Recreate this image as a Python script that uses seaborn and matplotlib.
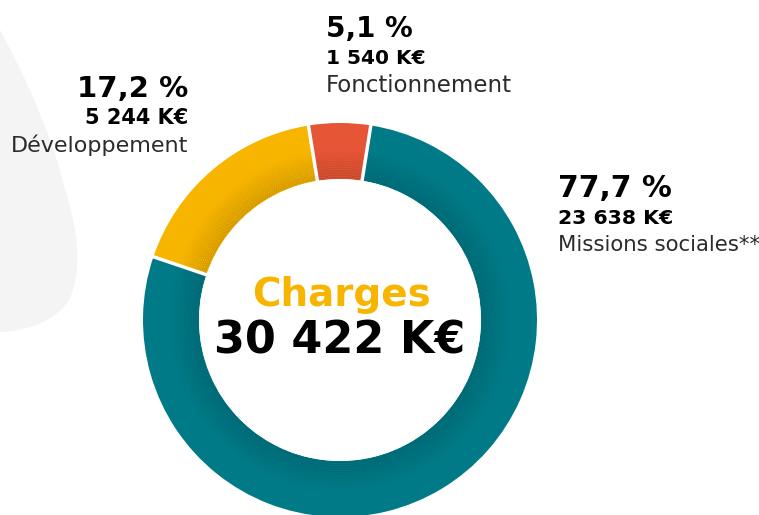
import matplotlib
matplotlib.use("Agg")
import matplotlib.pyplot as plt
import seaborn as sns
import numpy as np
from matplotlib.path import Path
from matplotlib.patches import PathPatch, Circle

# ---- data ----
categories = ["Fonctionnement", "Développement", "Missions sociales**"]
values_keur = [1540, 5244, 23638]
percent_labels = ["5,1 %", "17,2 %", "77,7 %"]
amount_labels = ["1 540 K€", "5 244 K€", "23 638 K€"]
total_label = "30 422 K€"
center_title = "Charges"
colors = ["#E65535", "#F7B500", "#007A87"]

sns.set_theme(style="white")
plt.rcParams['font.family'] = ['DejaVu Sans']

W, H = 759, 515
fig = plt.figure(figsize=(W / 100, H / 100), dpi=100)
ax = fig.add_axes([0, 0, 1, 1])

def Y(y):
    return H - y

# background blob
verts = [(0, Y(30)),
         (22, Y(70)), (50, Y(130)), (64, Y(185)),
         (76, Y(225)), (84, Y(265)), (70, Y(298)),
         (57, Y(322)), (25, Y(331)), (0, Y(332)),
         (0, Y(30))]
codes = [Path.MOVETO,
         Path.CURVE4, Path.CURVE4, Path.CURVE4,
         Path.CURVE4, Path.CURVE4, Path.CURVE4,
         Path.CURVE4, Path.CURVE4, Path.CURVE4,
         Path.CLOSEPOLY]
ax.add_patch(PathPatch(Path(verts, codes), facecolor="#F4F4F4", edgecolor="none", zorder=0))

cx, cy = 340, Y(320)
R, r = 197, 141
ax.pie(values_keur, colors=colors, startangle=81, counterclock=True,
       center=(cx, cy), radius=R, frame=True,
       wedgeprops=dict(width=R - r, edgecolor="none", linewidth=0))

# subtle inner shading
n = 16
for i in range(n):
    rr = r + (i + 1) * 1.8
    a = 0.07 * (1 - i / n)
    ax.pie([1], colors=["black"], center=(cx, cy), radius=rr, frame=True,
           wedgeprops=dict(width=1.8, edgecolor="none", alpha=a, linewidth=0, antialiased=False))
# clean white hole
ax.add_patch(Circle((cx, cy), r, facecolor="white", edgecolor="none", zorder=4))
# white gaps on top
for ang in np.cumsum([0] + values_keur[:-1]) / sum(values_keur) * 360 + 81:
    t = np.deg2rad(ang)
    ax.plot([cx + (r - 2) * np.cos(t), cx + (R + 2) * np.cos(t)],
            [cy + (r - 2) * np.sin(t), cy + (R + 2) * np.sin(t)],
            color="white", lw=2.5, solid_capstyle="butt", zorder=5)

ax.set_xlim(0, W)
ax.set_ylim(0, H)
ax.set_aspect("auto")
ax.axis("off")

# center text
ax.text(cx + 1, Y(306), center_title, ha="center", va="baseline", fontsize=28,
        fontweight="bold", color="#F7B500", zorder=6)
ax.text(cx, Y(354), total_label, ha="center", va="baseline", fontsize=32,
        fontweight="heavy", color="black", zorder=6)

# labels: (x, y baselines of 3 lines, ha, sizes)
label_pos = [
    (326, [37, 64, 92], "left", [20, 14.5, 16.5]),
    (188, [97, 124, 152], "right", [21, 15, 16]),
    (558, [197, 224, 251], "left", [21.5, 14.7, 15.3]),
]
for (x, ys, ha, fs), p, a, c in zip(label_pos, percent_labels, amount_labels, categories):
    ax.text(x, Y(ys[0]), p, ha=ha, va="baseline", fontsize=fs[0], fontweight="bold", color="black")
    ax.text(x, Y(ys[1]), a, ha=ha, va="baseline", fontsize=fs[1], fontweight="bold", color="black")
    ax.text(x, Y(ys[2]), c, ha=ha, va="baseline", fontsize=fs[2], fontweight="normal", color="#2b2b2b")

fig.savefig("out.png", dpi=100)
